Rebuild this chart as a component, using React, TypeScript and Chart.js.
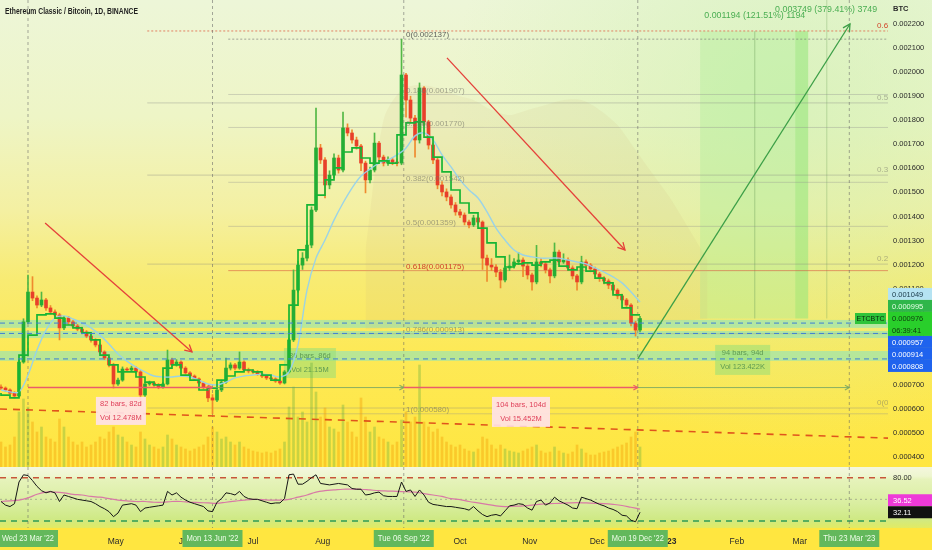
import React, { useEffect, useRef } from 'react';
import { Chart, registerables } from 'chart.js';

Chart.register(...registerables);

const FONT = '"Liberation Sans", Arial, Helvetica, sans-serif';

// ---------- time axis: day numbers relative to Wed 23 Mar 2022 ----------
const CANDLE_START_DAY = -12;
const CANDLE_STEP_DAYS = 2;
const LINE_STEP_DAYS = 4;
const CLOUD_START_DAY = 150;
const CLOUD_STEP_DAYS = 8;

// ---------- ETC/BTC price data in µBTC (1e-6 BTC), one candle per 2 days ----------
const FIRST_OPEN = 690;
const closes = [
  687, 679, 666, 654, 795, 962, 1086, 1061, 1032, 1053,
  1020, 1003, 991, 937, 978, 962, 945, 932, 920, 903,
  887, 866, 837, 812, 783, 704, 720, 766, 762, 770,
  754, 658, 704, 708, 700, 691, 704, 804, 783, 795,
  770, 750, 737, 725, 708, 691, 646, 637, 679, 712,
  770, 783, 770, 795, 762, 758, 754, 745, 737, 729,
  725, 716, 708, 754, 887, 1094, 1198, 1227, 1281, 1427,
  1685, 1635, 1531, 1572, 1643, 1593, 1768, 1747, 1718, 1693,
  1622, 1552, 1593, 1705, 1647, 1622, 1635, 1626, 1622, 1988,
  1884, 1809, 1718, 1934, 1793, 1697, 1635, 1531, 1502, 1481,
  1448, 1419, 1406, 1377, 1365, 1394, 1377, 1227, 1198, 1190,
  1169, 1136, 1186, 1194, 1211, 1219, 1194, 1157, 1128, 1211,
  1203, 1178, 1153, 1252, 1211, 1219, 1186, 1153, 1128, 1211,
  1198, 1182, 1161, 1144, 1132, 1115, 1094, 1070, 1053, 1032,
  957, 928, 976,
];
const highs = [
  700, 692, 684, 672, 805, 975, 1157, 1150, 1070, 1086,
  1060, 1030, 1012, 998, 985, 985, 968, 952, 940, 926,
  910, 892, 872, 842, 818, 790, 728, 775, 772, 778,
  775, 760, 710, 716, 714, 706, 710, 845, 812, 805,
  800, 776, 755, 742, 730, 712, 696, 660, 686, 720,
  812, 792, 790, 837, 800, 770, 764, 760, 750, 742,
  735, 730, 722, 760, 895, 1178, 1215, 1250, 1300, 1440,
  1851, 1700, 1645, 1590, 1660, 1655, 1834, 1785, 1760, 1730,
  1700, 1630, 1605, 1747, 1712, 1655, 1648, 1645, 1640, 2137,
  1995, 1900, 1820, 1955, 1940, 1800, 1705, 1645, 1545, 1515,
  1490, 1458, 1430, 1415, 1385, 1405, 1400, 1382, 1240, 1225,
  1200, 1180, 1195, 1240, 1225, 1250, 1228, 1205, 1165, 1280,
  1225, 1212, 1186, 1290, 1260, 1245, 1228, 1195, 1160, 1235,
  1220, 1205, 1190, 1168, 1150, 1140, 1120, 1100, 1078, 1060,
  1038, 965, 985,
];
const lows = [
  680, 672, 660, 645, 650, 790, 955, 1050, 1020, 1025,
  1010, 995, 980, 887, 930, 950, 938, 925, 912, 896,
  878, 858, 830, 805, 775, 687, 698, 715, 755, 757,
  748, 637, 652, 698, 694, 684, 686, 700, 775, 778,
  764, 744, 730, 718, 700, 684, 630, 580, 630, 672,
  706, 762, 762, 765, 755, 750, 748, 740, 730, 722,
  718, 710, 702, 704, 750, 880, 1085, 1180, 1215, 1270,
  1420, 1620, 1477, 1515, 1560, 1580, 1585, 1735, 1705, 1680,
  1590, 1498, 1540, 1585, 1635, 1610, 1612, 1615, 1610, 1615,
  1813, 1790, 1647, 1705, 1780, 1680, 1620, 1515, 1485, 1465,
  1435, 1405, 1395, 1365, 1352, 1358, 1368, 1180, 1130, 1175,
  1150, 1103, 1128, 1175, 1185, 1200, 1150, 1140, 1094, 1120,
  1190, 1165, 1124, 1145, 1200, 1205, 1175, 1140, 1094, 1120,
  1185, 1170, 1150, 1130, 1120, 1100, 1080, 1058, 1040, 1020,
  945, 903, 920,
];
// volume per 2-day bar, in 10k ETC
const volumes = [
  25, 20, 22, 30, 55, 68, 60, 45, 35, 40,
  30, 28, 25, 48, 40, 30, 25, 22, 25, 20,
  22, 25, 30, 28, 35, 40, 32, 30, 25, 22,
  20, 35, 28, 22, 20, 18, 20, 32, 28, 22,
  20, 18, 16, 18, 20, 22, 30, 40, 35, 28,
  30, 25, 22, 25, 20, 18, 16, 15, 14, 15,
  14, 16, 18, 25, 60, 80, 50, 55, 45, 104,
  75, 50, 59, 40, 38, 35, 62, 45, 35, 30,
  69, 50, 35, 40, 30, 28, 25, 22, 25, 47,
  55, 45, 50, 102, 45, 40, 35, 38, 30, 25,
  22, 20, 22, 18, 16, 15, 18, 30, 28, 22,
  18, 22, 18, 16, 15, 14, 16, 18, 20, 22,
  16, 14, 15, 20, 16, 14, 13, 15, 22, 18,
  14, 12, 12, 14, 15, 16, 18, 20, 22, 24,
  30, 35, 20,
];
// overlay lines, one value per 4 days (µBTC)
const baseLine = [
  666, 658, 646, 824, 907, 991, 995, 978, 949, 937,
  916, 887, 824, 783, 754, 754, 733, 712, 700, 770,
  783, 741, 720, 679, 687, 720, 737, 754, 762, 754,
  741, 720, 783, 1032, 1261, 1448, 1489, 1552, 1602, 1668,
  1685, 1643, 1622, 1631, 1622, 1739, 1789, 1793, 1730, 1647,
  1585, 1510, 1456, 1415, 1352, 1290, 1232, 1190, 1203, 1207,
  1198, 1211, 1219, 1194, 1178, 1190, 1173, 1144, 1124, 1074,
  1020, 991,
];
const emaLine = [
  679, 671, 671, 741, 845, 928, 978, 987, 974, 957,
  937, 907, 870, 829, 799, 774, 754, 737, 733, 733,
  737, 733, 720, 704, 700, 712, 729, 737, 741, 745,
  741, 733, 754, 866, 1094, 1227, 1302, 1385, 1456, 1518,
  1568, 1597, 1622, 1635, 1656, 1685, 1735, 1747, 1718, 1656,
  1606, 1552, 1510, 1477, 1419, 1352, 1302, 1261, 1240, 1232,
  1227, 1227, 1227, 1219, 1211, 1203, 1186, 1169, 1149, 1124,
  1086, 1045,
];
// faint cloud, one value per 8 days from day 150 (µBTC)
const cloudTop = [1261, 1801, 1926, 1946, 1934, 1905, 1884, 1843, 1822, 1843, 1863, 1884, 1884, 1843, 1780, 1676, 1572, 1468, 1344, 1219];
const cloudBottom = [930, 935, 940, 940, 945, 945, 940, 940, 935, 935, 940, 940, 945, 950, 955, 960, 960, 965, 970, 975];
// RSI per candle, and its moving average per 4 days
const rsiValues = [
  47, 42, 40, 44, 74, 84, 83, 76, 68, 62,
  59, 61, 59, 47, 56, 54, 52, 50, 49, 48,
  47, 44, 40, 37, 33, 26, 31, 42, 43, 44,
  42, 33, 38, 39, 40, 41, 42, 61, 56, 59,
  53, 49, 46, 44, 42, 40, 34, 33, 46, 51,
  59, 58, 56, 61, 54, 51, 50, 50, 48, 46,
  44, 45, 45, 51, 84, 85, 71, 71, 75, 80,
  84, 72, 71, 70, 71, 72, 71, 70, 65, 64,
  64, 56, 57, 59, 60, 55, 54, 54, 54, 74,
  61, 63, 54, 63, 56, 46, 43, 42, 41, 40,
  40, 39, 38, 37, 35, 40, 34, 29, 26, 28,
  29, 27, 34, 41, 42, 44, 43, 38, 35, 47,
  49, 42, 45, 53, 48, 45, 42, 38, 37, 53,
  51, 49, 46, 43, 41, 38, 36, 33, 28, 27,
  21, 19, 32.11,
];
const rsiAverage = [
  47, 48, 49, 52, 57, 60, 60, 59, 57, 56,
  54, 53, 51, 49, 48, 47, 47, 46, 46, 47,
  47, 46, 45.5, 45, 44.5, 46, 47.5, 49, 50, 49.5,
  49, 49, 50, 53, 56, 60, 62, 63, 64, 64,
  64, 63, 62, 61.5, 61, 60.5, 60, 58, 56, 54,
  51, 49.5, 47, 45, 43, 41, 40, 40.5, 41, 42,
  43.5, 44, 44.5, 45, 45.5, 45, 44.5, 44, 43, 41.5,
  39, 36.52,
];

// ---------- axis labels ----------
const monthTickDays = [39, 70, 100, 131, 162, 192, 223, 253, 284, 315, 343];
const monthTickLabels = ['May', 'Jun', 'Jul', 'Aug', 'Sep', 'Oct', 'Nov', 'Dec', '2023', 'Feb', 'Mar'];
const markerDays = [0, 82, 167, 271, 365];
const markerLabels = ["Wed 23 Mar '22", "Mon 13 Jun '22", "Tue 06 Sep '22", "Mon 19 Dec '22", "Thu 23 Mar '23"];
const priceTicks = [400, 500, 600, 700, 800, 900, 1000, 1100, 1200, 1300, 1400, 1500, 1600, 1700, 1800, 1900, 2000, 2100, 2200];

// ---------- drawings ----------
const fibLevels = [0, 0.146, 0.236, 0.382, 0.5, 0.618, 0.786, 1];
const fibPrices = [2137, 1907, 1770, 1542, 1359, 1175, 913, 580];
const fib2Levels = [0, 0.236, 0.382, 0.5, 0.618];
const fib2Prices = [604, 1202, 1572, 1872, 2171];
const zoneTops = [970, 924, 841];
const zoneBottoms = [937, 895, 800];
const levelPrices = [957, 914, 808];
const tagValues = [1049, 995, 976, 957, 914, 808];
const rangeFrom = [0, 82, 167, 271];
const rangeTo = [82, 167, 271, 365];
const rangeBars = ['82 bars, 82d', '86 bars, 86d', '104 bars, 104d', '94 bars, 94d'];
const rangeVols = ['Vol 12.478M', 'Vol 21.15M', 'Vol 15.452M', 'Vol 123.422K'];
const RANGE_PRICE = 689;
const longEntry = 976;
const longTarget = 2170;
const longText = '0.001194 (121.51%) 1194';
const projText = '0.003749 (379.41%) 3749';

// ---------- layout (pixels / scale ranges) ----------
const W = 932;
const MAIN_H = 467;
const RSI_H = 83;
const AXIS_W = 44;
const X_MIN = -12.44;
const X_MAX = 382.2;
const Y_MIN = 358.9;
const Y_MAX = 2299.7;
const VOL_MAX = 467;
const RSI_MIN = 10.3;
const RSI_MAX = 94.8;

const rangeBox = [
  { day: 41.3, price: 592, w: 50, h: 28, green: false },
  { day: 125.3, price: 791, w: 52, h: 30, green: true },
  { day: 219.1, price: 588, w: 58, h: 30, green: false },
  { day: 317.6, price: 804, w: 55, h: 30, green: true },
];
const arrows = [
  { d1: 7.6, p1: 1373, d2: 72.9, p2: 837, color: '#e5413a' },
  { d1: 186.2, p1: 2059, d2: 265.3, p2: 1261, color: '#e5413a' },
  { d1: 271, p1: 808, d2: 365.3, p2: 2200, color: '#3c9f47' },
];
const trend = { d1: X_MIN, p1: 600, d2: X_MAX, p2: 479 };
const longBox = { from: 298.7, to: 346.7, strip: 341, mid: 323, edge: 355 };

const candleDays = closes.map((_, i) => CANDLE_START_DAY + i * CANDLE_STEP_DAYS);
const lineDays = baseLine.map((_, k) => CANDLE_START_DAY + k * LINE_STEP_DAYS);
const cloudDays = cloudTop.map((_, k) => CLOUD_START_DAY + k * CLOUD_STEP_DAYS);
const opens = closes.map((_, i) => (i === 0 ? FIRST_OPEN : closes[i - 1]));
const isUp = closes.map((c, i) => c >= opens[i]);

function txt(ctx: any, s: string, x: number, y: number, o: any = {}) {
  ctx.save();
  ctx.font = `${o.weight || 'normal'} ${o.size || 8}px ${FONT}`;
  ctx.fillStyle = o.color || '#333';
  ctx.textAlign = o.align || 'left';
  ctx.textBaseline = o.baseline || 'middle';
  let sx = o.sx || 1;
  const w = ctx.measureText(s).width;
  if (o.fit && w > o.fit) sx = o.fit / w;
  if (o.width) sx = o.width / w;
  ctx.translate(x, y);
  ctx.scale(sx, 1);
  ctx.fillText(s, 0, 0);
  ctx.restore();
}
function seg(ctx: any, x1: number, y1: number, x2: number, y2: number, color: string, width = 1, dash: number[] = []) {
  ctx.save();
  ctx.strokeStyle = color;
  ctx.lineWidth = width;
  ctx.setLineDash(dash);
  ctx.beginPath();
  ctx.moveTo(x1, y1);
  ctx.lineTo(x2, y2);
  ctx.stroke();
  ctx.restore();
}
function head(ctx: any, x1: number, y1: number, x2: number, y2: number, color: string, width = 1.3, size = 7) {
  const a = Math.atan2(y2 - y1, x2 - x1);
  ctx.save();
  ctx.strokeStyle = color;
  ctx.lineWidth = width;
  ctx.beginPath();
  ctx.moveTo(x2 - size * Math.cos(a - 0.5), y2 - size * Math.sin(a - 0.5));
  ctx.lineTo(x2, y2);
  ctx.lineTo(x2 - size * Math.cos(a + 0.5), y2 - size * Math.sin(a + 0.5));
  ctx.stroke();
  ctx.restore();
}

const mainDecor: any = {
  id: 'mainDecor',
  beforeDraw(chart: any) {
    const { ctx, width, height } = chart;
    ctx.save();
    const g = ctx.createLinearGradient(0, 0, 0, height);
    g.addColorStop(0, '#edf6d8');
    g.addColorStop(0.25, '#eef5c6');
    g.addColorStop(0.45, '#f4f0a2');
    g.addColorStop(0.6, '#f8eb72');
    g.addColorStop(0.75, '#fde957');
    g.addColorStop(1, '#ffe640');
    ctx.fillStyle = g;
    ctx.fillRect(0, 0, width, height);
    const r = ctx.createRadialGradient(790, 110, 10, 790, 110, 340);
    r.addColorStop(0, 'rgba(205,240,180,0.6)');
    r.addColorStop(1, 'rgba(205,240,180,0)');
    ctx.fillStyle = r;
    ctx.fillRect(0, 0, width, height);
    ctx.restore();
  },
  beforeDatasetsDraw(chart: any) {
    const { ctx, chartArea: a, scales } = chart;
    const X = (v: number) => scales.x.getPixelForValue(v);
    const Y = (v: number) => scales.y.getPixelForValue(v);
    ctx.save();
    ctx.beginPath();
    ctx.rect(a.left, a.top, a.right - a.left, a.bottom - a.top);
    ctx.clip();
    // long position projection
    ctx.fillStyle = 'rgba(175,238,150,0.4)';
    ctx.fillRect(X(longBox.from), Y(longTarget), X(longBox.to) - X(longBox.from), Y(longEntry) - Y(longTarget));
    ctx.fillStyle = 'rgba(130,225,100,0.3)';
    ctx.fillRect(X(longBox.strip), Y(longTarget), X(longBox.to) - X(longBox.strip), Y(longEntry) - Y(longTarget));
    seg(ctx, X(longBox.mid), Y(longTarget), X(longBox.mid), Y(longEntry), 'rgba(110,160,90,0.45)');
    seg(ctx, X(longBox.edge), a.top, X(longBox.edge), Y(longEntry), 'rgba(110,160,90,0.35)');
    // support zones
    ctx.fillStyle = 'rgba(140,228,190,0.6)';
    zoneTops.forEach((t, i) => ctx.fillRect(a.left, Y(t), a.right - a.left, Y(zoneBottoms[i]) - Y(t)));
    // fib 2 (right side)
    fib2Prices.forEach((p, i) => {
      const red = fib2Levels[i] === 0.618;
      seg(ctx, X(53), Y(p), a.right, Y(p), red ? 'rgba(225,110,80,0.85)' : 'rgba(130,130,130,0.35)', 1, red ? [2, 2] : []);
    });
    // fib 1
    fibPrices.forEach((p, i) => {
      const l = fibLevels[i];
      const col = l === 0.618 ? 'rgba(215,80,60,0.55)' : l === 0 ? 'rgba(110,110,110,0.6)' : 'rgba(140,140,140,0.35)';
      seg(ctx, X(89), Y(p), a.right, Y(p), col, 1, l === 0 ? [2, 2] : []);
    });
    // date markers
    markerDays.forEach((d) => seg(ctx, X(d), a.top, X(d), a.bottom, 'rgba(100,100,100,0.55)', 1, [3, 3]));
    // green range boxes (behind candles)
    rangeBox.forEach((b, i) => {
      if (!b.green) return;
      const cx = X(b.day), cy = Y(b.price);
      ctx.fillStyle = 'rgba(150,222,120,0.55)';
      ctx.fillRect(cx - b.w / 2, cy - b.h / 2, b.w, b.h);
      txt(ctx, rangeBars[i], cx, cy - 7, { size: 7.5, color: '#5f9a52', align: 'center' });
      txt(ctx, rangeVols[i], cx, cy + 7, { size: 7.5, color: '#5f9a52', align: 'center' });
    });
    ctx.restore();
  },
  afterDatasetsDraw(chart: any) {
    const { ctx, chartArea: a, scales } = chart;
    const X = (v: number) => scales.x.getPixelForValue(v);
    const Y = (v: number) => scales.y.getPixelForValue(v);
    ctx.save();
    ctx.beginPath();
    ctx.rect(a.left, a.top, a.right - a.left, a.bottom - a.top);
    ctx.clip();
    levelPrices.forEach((p) => seg(ctx, a.left, Y(p), a.right, Y(p), '#3d7fd6', 1, [5, 4]));
    seg(ctx, X(trend.d1), Y(trend.p1), X(trend.d2), Y(trend.p2), '#e0541c', 1.6, [7, 6]);
    arrows.forEach((r) => {
      seg(ctx, X(r.d1), Y(r.p1), X(r.d2), Y(r.p2), r.color, 1.3);
      head(ctx, X(r.d1), Y(r.p1), X(r.d2), Y(r.p2), r.color, 1.3, 8);
    });
    rangeFrom.forEach((f, i) => {
      const green = rangeBox[i].green;
      const col = green ? 'rgba(110,160,100,0.8)' : '#ea5c6a';
      const yy = Y(RANGE_PRICE);
      seg(ctx, X(f), yy, X(rangeTo[i]), yy, col, green ? 1 : 1.6);
      head(ctx, X(f), yy, X(rangeTo[i]), yy, col, 1.2, 5);
    });
    rangeBox.forEach((b, i) => {
      if (b.green) return;
      const cx = X(b.day), cy = Y(b.price);
      ctx.fillStyle = 'rgba(255,226,232,0.92)';
      ctx.fillRect(cx - b.w / 2, cy - b.h / 2, b.w, b.h);
      txt(ctx, rangeBars[i], cx, cy - 7, { size: 7.5, color: '#e0405a', align: 'center' });
      txt(ctx, rangeVols[i], cx, cy + 7, { size: 7.5, color: '#e0405a', align: 'center' });
    });
    fibPrices.forEach((p, i) => {
      const l = fibLevels[i];
      const col = l === 0.618 ? '#d2452a' : l === 0 ? 'rgba(70,70,70,0.85)' : 'rgba(110,110,100,0.6)';
      txt(ctx, `${l}(${(p / 1e6).toFixed(6)})`, X(168), Y(p) - 4, { size: 8, color: col });
    });
    fib2Prices.forEach((p, i) => {
      const l = fib2Levels[i];
      txt(ctx, `${l}(${(p / 1e6).toFixed(6)})`, a.right - 11, Y(p) - 5, { size: 8, color: l === 0.618 ? '#d2452a' : 'rgba(110,110,100,0.5)' });
    });
    ctx.restore();
    // current symbol tag
    const yc = Y(closes[closes.length - 1]);
    ctx.fillStyle = '#2ec43a';
    ctx.fillRect(a.right - 33, yc - 5.5, 31, 11);
    txt(ctx, 'ETCBTC', a.right - 17.5, yc, { size: 7.5, color: '#0c2a0c', align: 'center', fit: 28 });
  },
  afterDraw(chart: any) {
    const { ctx, chartArea: a, scales } = chart;
    const X = (v: number) => scales.x.getPixelForValue(v);
    const Y = (v: number) => scales.y.getPixelForValue(v);
    txt(ctx, longText, X(longBox.mid), Y(2237), { size: 9, color: '#4aae52', align: 'center', width: 101 });
    txt(ctx, projText, X(354.7), Y(2262), { size: 9, color: '#4aae52', align: 'center', width: 102 });
    // price tags on the axis
    const styles = [
      { bg: '#b5e3f2', fg: '#20404f' },
      { bg: '#2fb64a', fg: '#e6ffe6' },
      { bg: '#29cf2b', fg: '#0d3b0d', sub: '06:39:41' },
      { bg: '#1f63ee', fg: '#ffffff' },
      { bg: '#1f63ee', fg: '#ffffff' },
      { bg: '#1f63ee', fg: '#ffffff' },
    ];
    const items = tagValues.map((v, i) => ({ v, st: styles[i], c: Y(v), h: styles[i].sub ? 24 : 12 }));
    items.sort((p, q) => p.c - q.c);
    const minTop = Math.min(...items.map((t) => t.c - 6));
    const maxBot = Math.max(...items.map((t) => t.c - 6 + t.h));
    const total = items.reduce((s, t) => s + t.h, 0);
    let top = (minTop + maxBot) / 2 - total / 2;
    items.forEach((t) => {
      ctx.fillStyle = t.st.bg;
      ctx.fillRect(a.right, top, AXIS_W, t.h);
      txt(ctx, (t.v / 1e6).toFixed(6), a.right + 4, top + 6.5, { size: 7.5, color: t.st.fg });
      if (t.st.sub) txt(ctx, t.st.sub, a.right + 4, top + 18.5, { size: 7.5, color: t.st.fg });
      top += t.h;
    });
    txt(ctx, 'BTC', a.right + 5, 9, { size: 7.5, weight: 'bold', color: '#2b2b2b' });
    txt(ctx, 'Ethereum Classic / Bitcoin, 1D, BINANCE', 5, 11, { size: 9.5, weight: 'bold', color: '#1e1e1e', width: 133 });
  },
};

const rsiDecor: any = {
  id: 'rsiDecor',
  beforeDraw(chart: any) {
    const { ctx, width, height, chartArea: a } = chart;
    ctx.save();
    ctx.fillStyle = '#ffe640';
    ctx.fillRect(0, 0, width, height);
    const g = ctx.createLinearGradient(0, a.top, 0, a.bottom);
    g.addColorStop(0, '#f4f7de');
    g.addColorStop(0.15, '#eef6cf');
    g.addColorStop(0.2, '#e6f3bb');
    g.addColorStop(0.6, '#d9eea0');
    g.addColorStop(0.85, '#cfe985');
    g.addColorStop(1, '#e2eb62');
    ctx.fillStyle = g;
    ctx.fillRect(0, a.top, width, a.bottom - a.top);
    ctx.restore();
  },
  beforeDatasetsDraw(chart: any) {
    const { ctx, chartArea: a, scales } = chart;
    const X = (v: number) => scales.x.getPixelForValue(v);
    const Y = (v: number) => scales.y.getPixelForValue(v);
    seg(ctx, a.left, Y(80), a.right, Y(80), '#c8553a', 1.4, [6, 5]);
    seg(ctx, a.left, Y(50), a.right, Y(50), 'rgba(120,120,120,0.5)', 1, [2, 3]);
    seg(ctx, a.left, Y(20), a.right, Y(20), '#2f9a55', 1.4, [6, 5]);
    markerDays.forEach((d) => seg(ctx, X(d), a.top, X(d), a.bottom, 'rgba(100,100,100,0.55)', 1, [3, 3]));
  },
  afterDraw(chart: any) {
    const { ctx, chartArea: a, scales } = chart;
    const X = (v: number) => scales.x.getPixelForValue(v);
    const Y = (v: number) => scales.y.getPixelForValue(v);
    const rv = rsiValues[rsiValues.length - 1];
    const mv = rsiAverage[rsiAverage.length - 1];
    const rTop = Y(rv) - 6;
    let mTop = Y(mv) - 6;
    if (mTop + 12 > rTop) mTop = rTop - 12;
    ctx.fillStyle = '#ee3ad8';
    ctx.fillRect(a.right, mTop, AXIS_W, 12);
    txt(ctx, mv.toFixed(2), a.right + 5, mTop + 6.5, { size: 7.5, color: '#ffffff' });
    ctx.fillStyle = '#111111';
    ctx.fillRect(a.right, rTop, AXIS_W, 12);
    txt(ctx, rv.toFixed(2), a.right + 5, rTop + 6.5, { size: 7.5, color: '#ffffff' });
    markerDays.forEach((d, i) => {
      const cx = X(d);
      ctx.fillStyle = '#63b85c';
      ctx.fillRect(cx - 30, a.bottom + 2, 60, 17);
      txt(ctx, markerLabels[i], cx, a.bottom + 11, { size: 8.5, color: '#eefce8', align: 'center', fit: 52 });
    });
  },
};

function mainConfig(): any {
  return {
    type: 'bar',
    data: {
      datasets: [
        {
          type: 'line', label: 'Base line', data: lineDays.map((d, k) => ({ x: d, y: baseLine[k] })),
          borderColor: '#17b534', borderWidth: 1.7, stepped: 'after', pointRadius: 0, order: 1,
        },
        {
          type: 'line', label: 'EMA', data: lineDays.map((d, k) => ({ x: d, y: emaLine[k] })),
          borderColor: 'rgba(150,210,235,0.95)', borderWidth: 1.4, tension: 0.35, pointRadius: 0, order: 2,
        },
        {
          type: 'bar', label: 'Bodies', data: candleDays.map((d, i) => ({ x: d, y: [opens[i], closes[i]] })),
          backgroundColor: isUp.map((u) => (u ? '#25ad35' : '#e8402a')), barThickness: 3, grouped: false, minBarLength: 1, order: 3,
        },
        {
          type: 'bar', label: 'Wicks', data: candleDays.map((d, i) => ({ x: d, y: [lows[i], highs[i]] })),
          backgroundColor: isUp.map((u) => (u ? '#52b845' : '#ef8a2e')), barThickness: 1, grouped: false, order: 4,
        },
        {
          type: 'bar', label: 'Volume', yAxisID: 'yVol', data: candleDays.map((d, i) => ({ x: d, y: volumes[i] })),
          backgroundColor: isUp.map((u) => (u ? 'rgba(90,170,60,0.33)' : 'rgba(240,150,0,0.36)')), barThickness: 2, grouped: false, order: 5,
        },
        {
          type: 'line', label: 'Cloud top', data: cloudDays.map((d, k) => ({ x: d, y: cloudTop[k] })),
          borderColor: 'rgba(0,0,0,0)', borderWidth: 0, tension: 0.3, pointRadius: 0,
          fill: '+1', backgroundColor: 'rgba(205,185,120,0.12)', order: 6,
        },
        {
          type: 'line', label: 'Cloud bottom', data: cloudDays.map((d, k) => ({ x: d, y: cloudBottom[k] })),
          borderColor: 'rgba(0,0,0,0)', borderWidth: 0, tension: 0.3, pointRadius: 0, order: 7,
        },
      ],
    },
    options: {
      responsive: false,
      animation: false,
      events: [],
      layout: { padding: 0 },
      plugins: { legend: { display: false }, tooltip: { enabled: false } },
      scales: {
        x: { type: 'linear', min: X_MIN, max: X_MAX, offset: false, display: false },
        y: {
          type: 'linear', position: 'right', min: Y_MIN, max: Y_MAX,
          grid: { display: false, drawTicks: false }, border: { display: false },
          afterBuildTicks: (s: any) => { s.ticks = priceTicks.map((v) => ({ value: v })); },
          ticks: { padding: 5, color: '#2b2b2b', font: { size: 7.5, family: FONT }, callback: (v: any) => (Number(v) / 1e6).toFixed(6) },
          afterFit: (s: any) => { s.width = AXIS_W; s.paddingTop = 0; s.paddingBottom = 0; },
        },
        yVol: { type: 'linear', display: false, min: 0, max: VOL_MAX },
      },
    },
    plugins: [mainDecor],
  };
}

function rsiConfig(): any {
  return {
    type: 'line',
    data: {
      datasets: [
        { label: 'RSI', data: candleDays.map((d, i) => ({ x: d, y: rsiValues[i] })), borderColor: '#161616', borderWidth: 1, pointRadius: 0, order: 1 },
        { label: 'RSI MA', data: lineDays.map((d, k) => ({ x: d, y: rsiAverage[k] })), borderColor: '#d879a6', borderWidth: 1.2, tension: 0.4, pointRadius: 0, order: 2 },
      ],
    },
    options: {
      responsive: false,
      animation: false,
      events: [],
      layout: { padding: 0 },
      plugins: { legend: { display: false }, tooltip: { enabled: false } },
      scales: {
        x: {
          type: 'linear', min: X_MIN, max: X_MAX, offset: false,
          grid: { display: false, drawTicks: false }, border: { display: false },
          afterBuildTicks: (s: any) => { s.ticks = monthTickDays.map((v) => ({ value: v })); },
          ticks: {
            autoSkip: false, maxRotation: 0, minRotation: 0, padding: 9, color: '#2b2b2b',
            font: (c: any) => ({ size: 8.5, family: FONT, weight: c.tick && c.tick.value === 284 ? 'bold' : 'normal' }),
            callback: (_v: any, i: number) => monthTickLabels[i],
          },
          afterFit: (s: any) => { s.height = 22; s.paddingLeft = 0; s.paddingRight = 0; },
        },
        y: {
          type: 'linear', position: 'right', min: RSI_MIN, max: RSI_MAX,
          grid: { display: false, drawTicks: false }, border: { display: false },
          afterBuildTicks: (s: any) => { s.ticks = [{ value: 80 }]; },
          ticks: { padding: 5, color: '#2b2b2b', font: { size: 7.5, family: FONT }, callback: (v: any) => Number(v).toFixed(2) },
          afterFit: (s: any) => { s.width = AXIS_W; s.paddingTop = 0; s.paddingBottom = 0; },
        },
      },
    },
    plugins: [rsiDecor],
  };
}

export default function App() {
  const mainRef = useRef<HTMLCanvasElement>(null);
  const rsiRef = useRef<HTMLCanvasElement>(null);
  useEffect(() => {
    const main = new Chart(mainRef.current as any, mainConfig());
    const rsi = new Chart(rsiRef.current as any, rsiConfig());
    return () => {
      main.destroy();
      rsi.destroy();
    };
  }, []);
  return (
    <div style={{ position: 'fixed', left: 0, top: 0, width: W, height: MAIN_H + RSI_H, overflow: 'hidden', background: '#ffe640' }}>
      <canvas ref={mainRef} width={W} height={MAIN_H} style={{ position: 'absolute', left: 0, top: 0, width: W, height: MAIN_H }} />
      <canvas ref={rsiRef} width={W} height={RSI_H} style={{ position: 'absolute', left: 0, top: MAIN_H, width: W, height: RSI_H }} />
    </div>
  );
}
